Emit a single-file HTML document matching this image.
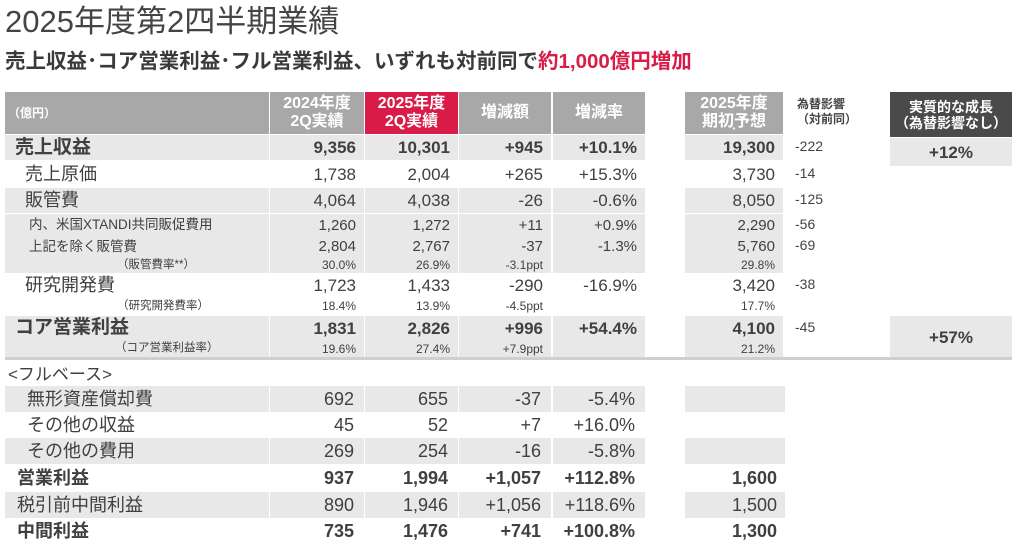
<!DOCTYPE html>
<html><head><meta charset="utf-8">
<style>
body{margin:0;width:1024px;height:547px;background:#fff;overflow:hidden;font-family:"Liberation Sans","Noto Sans CJK JP",sans-serif;color:#404040;position:relative}
.a{position:absolute;box-sizing:border-box;white-space:nowrap}
.num{text-align:right}
.hd{color:#fff;font-weight:bold;text-align:center;font-size:16px;line-height:18px;display:flex;flex-direction:column;justify-content:center;align-items:center}
.nar{font-family:"Liberation Sans Narrow","Liberation Sans","Noto Sans CJK JP",sans-serif}
</style></head><body>
<div class="a" style="left:5px;top:2px;font-size:31px;line-height:40px;color:#444">2025年度第2四半期業績</div>
<div class="a" style="left:5px;top:48px;font-size:20.5px;line-height:28px;font-weight:bold;color:#3a3a3a">売上収益･コア営業利益･フル営業利益、いずれも対前同で<span style="color:#d91c47">約1,000億円増加</span></div>

<div class="a" style="left:5px;top:92px;width:264px;height:42px;background:#a9a8a9;color:#fff;font-size:12px;font-weight:bold;line-height:42px;padding-left:3px">（億円）</div>
<div class="a hd" style="left:270px;top:92px;width:94px;height:42px;background:#a9a8a9">2024年度<br>2Q実績</div>
<div class="a hd" style="left:365px;top:92px;width:93px;height:42px;background:#d91c47">2025年度<br>2Q実績</div>
<div class="a hd" style="left:459px;top:92px;width:92px;height:42px;background:#a9a8a9">増減額</div>
<div class="a hd" style="left:553px;top:92px;width:92px;height:42px;background:#a9a8a9">増減率</div>
<div class="a hd" style="left:685px;top:92px;width:98px;height:42px;background:#a9a8a9">2025年度<br>期初予想<sup style="font-size:7px;line-height:0">*</sup></div>
<div class="a" style="left:797px;top:97px;font-size:12px;line-height:15px;font-weight:bold;color:#444">為替影響<br>（対前同）</div>
<div class="a hd" style="left:890px;top:92px;width:122px;height:45px;background:#4a4a4a;font-size:14px;line-height:16px">実質的な成長<br>（為替影響なし）</div>
<div class="a" style="left:890px;top:138px;width:122px;height:28px;background:#e8e8e8;font-weight:bold;font-size:17px;line-height:30px;text-align:center">+12%</div>
<div class="a" style="left:890px;top:316px;width:122px;height:41px;background:#e8e8e8;font-weight:bold;font-size:17px;line-height:44px;text-align:center">+57%</div>

<div id="t"></div>
<div class="a" style="left:5px;top:357px;width:1007px;height:3px;background:#cfcfcf"></div>
<div class="a nar" style="left:8px;top:364px;font-size:17px;line-height:22px">&lt;フルベース&gt;</div>

<script>
const labels=["売上収益","売上原価","販管費","内、米国XTANDI共同販促費用","上記を除く販管費","（販管費率**）","研究開発費","（研究開発費率）","コア営業利益","（コア営業利益率）"];
const fy2024=["9,356","1,738","4,064","1,260","2,804","30.0%","1,723","18.4%","1,831","19.6%"];
const fy2025=["10,301","2,004","4,038","1,272","2,767","26.9%","1,433","13.9%","2,826","27.4%"];
const chg=["+945","+265","-26","+11","-37","-3.1ppt","-290","-4.5ppt","+996","+7.9ppt"];
const rate=["+10.1%","+15.3%","-0.6%","+0.9%","-1.3%","","-16.9%","","+54.4%",""];
const fcst=["19,300","3,730","8,050","2,290","5,760","29.8%","3,420","17.7%","4,100","21.2%"];
const fx=["-222","-14","-125","-56","-69","","-38","","-45",""];
const blabels=["無形資産償却費","その他の収益","その他の費用","営業利益","税引前中間利益","中間利益"];
const b2024=["692","45","269","937","890","735"];
const b2025=["655","52","254","1,994","1,946","1,476"];
const bchg=["-37","+7","-16","+1,057","+1,056","+741"];
const brate=["-5.4%","+16.0%","-5.8%","+112.8%","+118.6%","+100.8%"];
const bfcst=["","","","1,600","1,500","1,300"];
const tops=[135,161,188,214,236,257,274,297,316,340];
const hts=[25,26,25,22,21,16,23,18,24,17];
const gray=[1,0,1,1,1,1,0,0,1,1];
const kind=["b","m","m","s","s","t","m","t","b","t"];
const indent=[10,20,20,24,24,112,20,112,10,110];
const cols=[[270,94],[365,93],[459,92],[553,92],[685,98]];
const btops=[386,412,438,465,492,518];const bgray=[1,0,1,0,1,0];const bbold=[0,0,0,1,0,1];
const T=document.getElementById('t');
function cell(x,y,w,h,txt,style,name,cls){const d=document.createElement('div');d.className='a'+(cls?' '+cls:'');


d.style.cssText=`left:${x}px;top:${y}px;width:${w}px;height:${h}px;${style}`;d.textContent=txt;T.appendChild(d);return d;}
const fs={b:[19,17,'bold'],m:[18,17,'normal'],s:[13.5,15,'normal'],t:[11.5,12,'normal']};
labels.forEach((l,i)=>{const y=tops[i],h=hts[i],g=gray[i]?'background:#e8e8e8;':'';const f=fs[kind[i]];
cell(5,y,264,h,l,g+`font-size:${f[0]}px;line-height:${h}px;font-weight:${f[2]};padding-left:${indent[i]}px`,'row-label');
const vals=[fy2024[i],fy2025[i],chg[i],rate[i],fcst[i]];
vals.forEach((v,j)=>{const c=cols[j];const bg=gray[i]?'background:#e8e8e8;':'';
cell(c[0],y,c[1],h,v,bg+`font-size:${f[1]}px;line-height:${h+1}px;font-weight:${f[2]};text-align:right;padding-right:8px`,'value-cell');});
if(fx[i])cell(795,y,80,h,fx[i],`font-size:14px;line-height:${h-2}px;color:#444`,'fx-impact');});
blabels.forEach((l,i)=>{const y=btops[i],h=26,g=bgray[i]?'background:#e8e8e8;':'';const bw=bbold[i]?'bold':'normal';
cell(5,y,264,h,l,g+`font-size:18px;line-height:${h}px;font-weight:${bw};padding-left:${i<3?22:12}px`,'row-label','nar');
[b2024[i],b2025[i],bchg[i],brate[i]].forEach((v,j)=>{const c=cols[j];
cell(c[0],y,c[1],h,v,g+`font-size:18px;line-height:${h+1}px;font-weight:${bw};text-align:right;padding-right:10px`,'value-cell','nar');});
cell(685,y,100,h,bfcst[i],g+`font-size:18px;line-height:${h+1}px;font-weight:${bw};text-align:right;padding-right:8px`,'forecast-cell','nar');});
</script>
</body></html>
